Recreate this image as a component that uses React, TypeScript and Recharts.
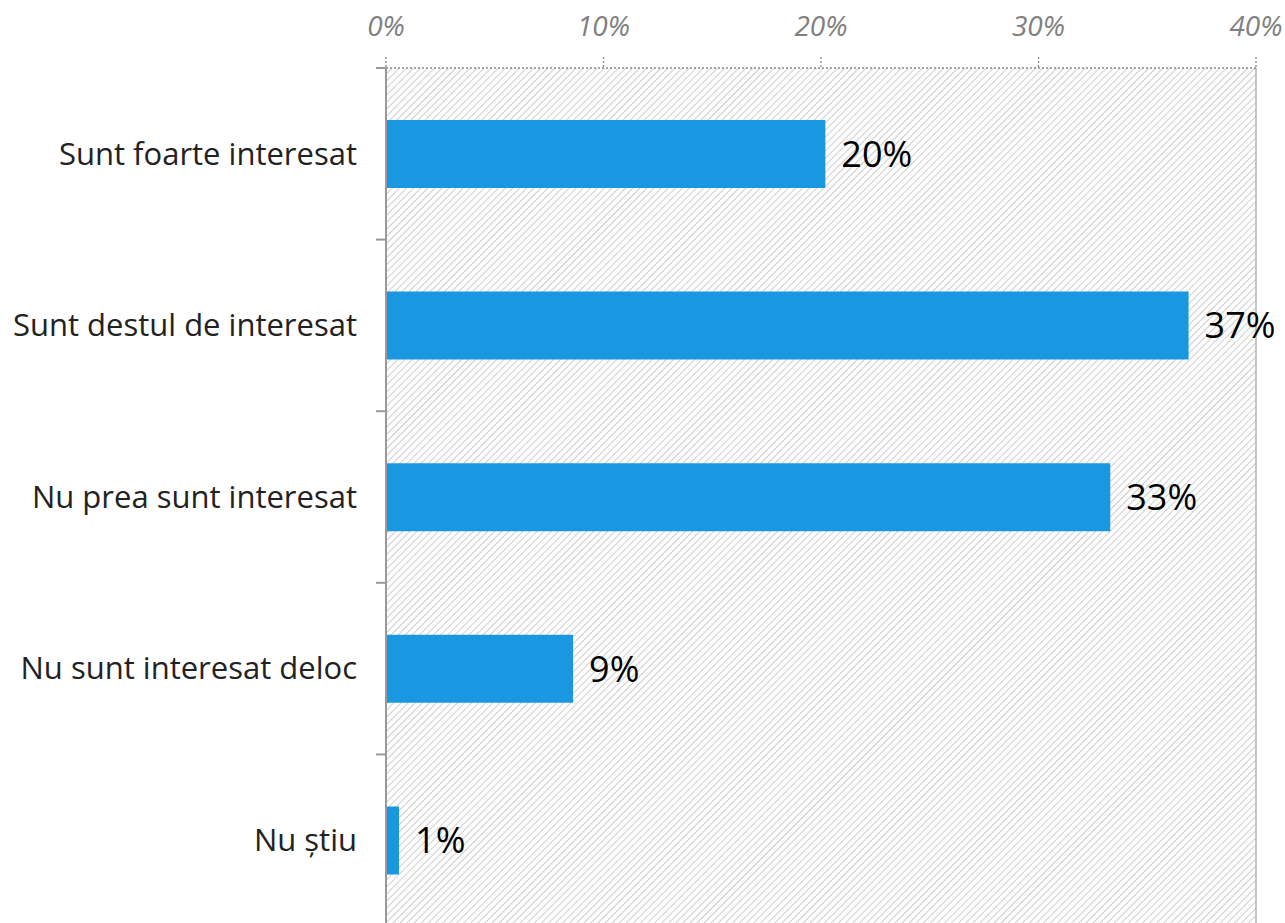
import React from "react";
import { BarChart, Bar, XAxis, YAxis, CartesianGrid, ReferenceLine, LabelList } from "recharts";

const categories = [
  "Sunt foarte interesat",
  "Sunt destul de interesat",
  "Nu prea sunt interesat",
  "Nu sunt interesat deloc",
  "Nu știu",
];
const values = [20.2, 36.9, 33.3, 8.6, 0.6];
const valueLabels = ["20%", "37%", "33%", "9%", "1%"];
const xTicks = [0, 10, 20, 30, 40];

const data = categories.map((c, i) => ({ name: c, value: values[i], label: valueLabels[i] }));

const FONT = "'Open Sans', sans-serif";
const AXIS_GAP = 29;

const CategoryTick = (props: any) => {
  const { x, y, payload, index, visibleTicksCount } = props;
  const half = payload && typeof payload.offset === "number" ? payload.offset : 86;
  const axisX = x + AXIS_GAP;
  const isLast = index === visibleTicksCount - 1;
  return (
    <g>
      <text x={x} y={y} dy="0.35em" textAnchor="end" fill="#222" fontSize={31} fontFamily={FONT}>
        {payload.value}
      </text>
      <line x1={axisX - 10} x2={axisX} y1={y - half} y2={y - half} stroke="#999" strokeWidth={2} />
      {isLast && <line x1={axisX - 10} x2={axisX} y1={y + half} y2={y + half} stroke="#999" strokeWidth={2} />}
    </g>
  );
};

export default function App() {
  return (
    <div style={{ position: "absolute", left: 0, top: 0, width: 1285, height: 926, background: "#fff" }}>
      <svg width={0} height={0} style={{ position: "absolute" }}>
        <defs>
          <pattern id="hatch" patternUnits="userSpaceOnUse" width={5} height={5} patternTransform="rotate(45)">
            <line x1={0} y1={0} x2={0} y2={5} stroke="#bcbcbc" strokeWidth={1.5} />
          </pattern>
        </defs>
      </svg>
      <BarChart
        width={1285}
        height={926}
        data={data}
        layout="vertical"
        margin={{ top: 0, right: 29, bottom: 0, left: 0 }}
        barCategoryGap={0}
      >
        <CartesianGrid horizontal={false} vertical={false} fill="url(#hatch)" stroke="none" />
        <XAxis
          type="number"
          orientation="top"
          domain={[0, 40]}
          ticks={xTicks}
          tickFormatter={(v: number) => `${v}%`}
          height={68}
          tickSize={11}
          tickMargin={21}
          axisLine={{ stroke: "#888", strokeDasharray: "2 2", strokeWidth: 1.3 }}
          tickLine={{ stroke: "#888", strokeDasharray: "2 2", strokeWidth: 1.3 }}
          tick={{ fill: "#808080", fontSize: 28, fontStyle: "italic", fontFamily: FONT }}
        />
        <YAxis
          type="category"
          dataKey="name"
          width={386}
          tickSize={10}
          tickMargin={19}
          tickLine={false}
          axisLine={{ stroke: "#999", strokeWidth: 2 }}
          tick={<CategoryTick />}
          interval={0}
        />
        <ReferenceLine x={40} stroke="#b5b5b5" strokeWidth={1.5} ifOverflow="extendDomain" />
        <Bar dataKey="value" fill="#1997e1" barSize={68} isAnimationActive={false}>
          <LabelList
            dataKey="label"
            position="right"
            offset={16}
            fill="#000"
            fontSize={36}
            fontFamily={FONT}
          />
        </Bar>
      </BarChart>
    </div>
  );
}
